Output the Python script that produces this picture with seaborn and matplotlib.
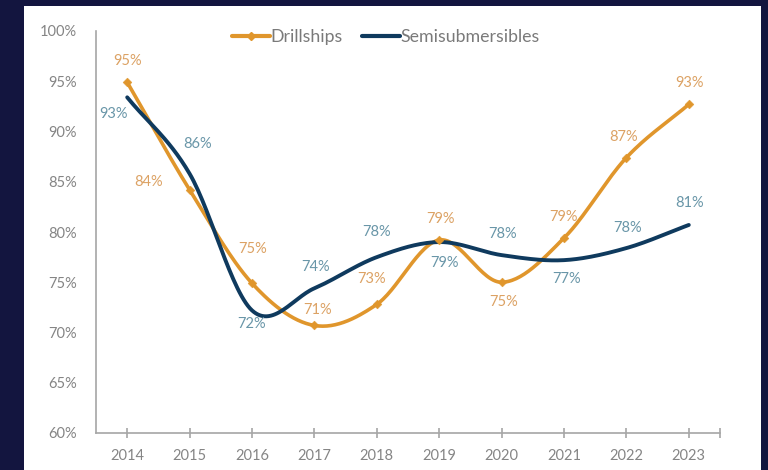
import numpy as np
import pandas as pd
import matplotlib
matplotlib.use("Agg")
import matplotlib.pyplot as plt
import seaborn as sns
from matplotlib.lines import Line2D
from matplotlib.patches import Rectangle

years = ["2014", "2015", "2016", "2017", "2018", "2019", "2020", "2021", "2022", "2023"]
drillships = [94.9, 84.2, 74.9, 70.7, 72.8, 79.2, 75.0, 79.4, 87.4, 92.7]
semis = [93.4, 85.8, 72.2, 74.4, 77.5, 79.0, 77.7, 77.2, 78.4, 80.7]
drill_labels = ["95%", "84%", "75%", "71%", "73%", "79%", "75%", "79%", "87%", "93%"]
semis_labels = ["93%", "86%", "72%", "74%", "78%", "79%", "78%", "77%", "78%", "81%"]
yticks = [60, 65, 70, 75, 80, 85, 90, 95, 100]

# label offsets in pixels (dx, dy with y up)
drill_off = [(0, 21), (-41, 8), (1, 34), (3, 15), (-5, 25), (1, 21), (2, -20), (-1, 21), (-3, 21), (1, 21)]
semis_off = [(-14, -17), (8, 30), (0, -14), (1, 21), (0, 25), (5, -21), (1, 21), (3, -19), (1, 20), (1, 22)]

C_DRILL = "#e0962c"
C_DRILL_T = "#dca264"
C_SEMI = "#0f3a5e"
C_SEMI_T = "#6996a8"
C_BG = "#13153f"
C_AX = "#a6a6a6"
C_TXT = "#858585"


def smooth(xs, ys, n=30):
    x = np.asarray(xs, float)
    y = np.asarray(ys, float)
    px = np.concatenate([[2 * x[0] - x[1]], x, [2 * x[-1] - x[-2]]])
    py = np.concatenate([[2 * y[0] - y[1]], y, [2 * y[-1] - y[-2]]])
    ox, oy = [], []
    for i in range(1, len(px) - 2):
        p0, p1, p2, p3 = px[i - 1], px[i], px[i + 1], px[i + 2]
        q0, q1, q2, q3 = py[i - 1], py[i], py[i + 1], py[i + 2]
        c1x, c1y = p1 + (p2 - p0) / 6, q1 + (q2 - q0) / 6
        c2x, c2y = p2 - (p3 - p1) / 6, q2 - (q3 - q1) / 6
        t = np.linspace(0, 1, n, endpoint=(i == len(px) - 3))
        b0, b1, b2, b3 = (1 - t) ** 3, 3 * (1 - t) ** 2 * t, 3 * (1 - t) * t ** 2, t ** 3
        ox.extend(b0 * p1 + b1 * c1x + b2 * c2x + b3 * p2)
        oy.extend(b0 * q1 + b1 * c1y + b2 * c2y + b3 * q2)
    return np.array(ox), np.array(oy)


sns.set_theme(style="white")
plt.rcParams["font.family"] = ["Lato", "DejaVu Sans"]

fig = plt.figure(figsize=(7.68, 4.70), dpi=100)
fig.patch.set_facecolor(C_BG)
fig.patches.append(Rectangle((24 / 768, 0), (761 - 24) / 768, 1 - 6 / 470,
                             transform=fig.transFigure, facecolor="white",
                             edgecolor="none", zorder=-5))
ax = fig.add_axes([96 / 768, 1 - 433 / 470, (720 - 96) / 768, (433 - 31) / 470])
ax.set_zorder(2)
ax.set_facecolor("none")

idx = np.arange(len(years))
dx, dy = smooth(idx, drillships)
sx, sy = smooth(idx, semis)
df_d = pd.DataFrame({"x": dx, "y": dy})
df_s = pd.DataFrame({"x": sx, "y": sy})
sns.lineplot(data=df_d, x="x", y="y", sort=False, color=C_DRILL, lw=2.6, ax=ax, zorder=3)
sns.lineplot(data=df_s, x="x", y="y", sort=False, color=C_SEMI, lw=2.8, ax=ax, zorder=4)
sns.scatterplot(x=idx, y=drillships, marker="D", s=20, color=C_DRILL, edgecolor=C_DRILL,
                ax=ax, zorder=5)

for i in idx:
    ax.annotate(drill_labels[i], (i, drillships[i]), xytext=drill_off[i],
                textcoords="offset pixels", ha="center", va="center",
                color=C_DRILL_T, fontsize=10.5, zorder=6)
    ax.annotate(semis_labels[i], (i, semis[i]), xytext=semis_off[i],
                textcoords="offset pixels", ha="center", va="center",
                color=C_SEMI_T, fontsize=10.5, zorder=6)

ax.set_xlim(-0.5, 9.5)
ax.set_ylim(60, 100)
ax.set_xticks(idx)
ax.set_xticklabels(years)
ax.set_xticks([9.5], minor=True)
ax.set_yticks(yticks)
ax.set_yticklabels([f"{v}%" for v in yticks])
ax.set_xlabel("")
ax.set_ylabel("")
for s in ["top", "right"]:
    ax.spines[s].set_visible(False)
for s in ["left", "bottom"]:
    ax.spines[s].set_color(C_AX)
    ax.spines[s].set_linewidth(1.2)
ax.tick_params(axis="x", which="both", direction="inout", length=7, width=1.2,
               color=C_AX, labelcolor=C_TXT, labelsize=10.5, pad=8, bottom=True)
ax.tick_params(axis="y", length=0, labelcolor=C_TXT, labelsize=10.5, pad=14)

handles = [Line2D([0], [0], color=C_DRILL, lw=3, marker="D", markersize=4.5),
           Line2D([0], [0], color=C_SEMI, lw=3)]
fig.legend(handles, ["Drillships", "Semisubmersibles"], loc="center",
           bbox_to_anchor=(386 / 768, 1 - 37 / 470), ncol=2, frameon=False,
           fontsize=12.8, labelcolor="#7a7a7a", handlelength=2.1, handletextpad=0.05,
           columnspacing=1.1)

fig.savefig("out.png", dpi=100, facecolor=fig.get_facecolor())
